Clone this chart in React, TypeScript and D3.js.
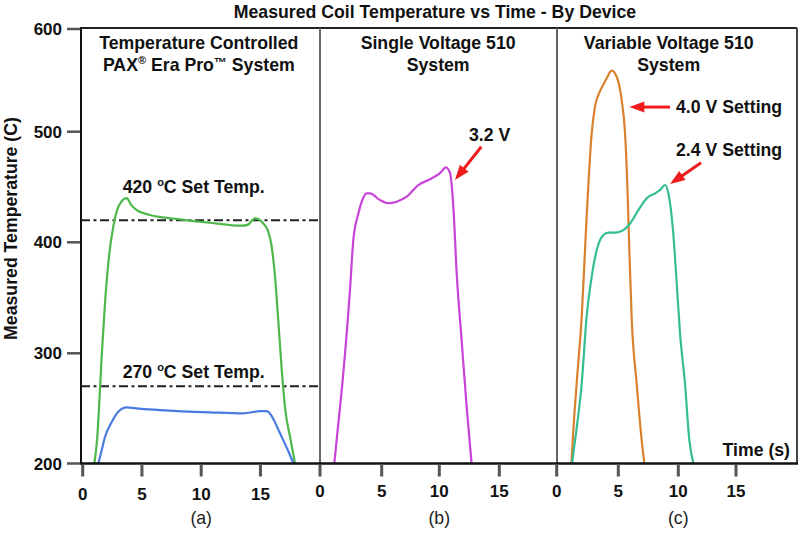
import React from 'react';
import * as d3 from 'd3';

// ---------- data ----------
const chartTitle = 'Measured Coil Temperature vs Time - By Device';
const yTickValues = [200, 300, 400, 500, 600];
const xTickValues = [0, 5, 10, 15];
const panelLetters = ['(a)', '(b)', '(c)'];
const setTemps = [420, 270];

// Panel (a): temperature controlled, 420 C setting (green)
const set420Time = [0.98, 1.23, 1.4, 1.6, 1.88, 2.25, 2.58, 3.0, 3.71, 4.08, 4.56, 5.68, 8.21, 10.74, 13.42, 13.95, 14.54, 14.9, 15.24, 15.66, 15.95, 16.23, 16.5, 16.8, 17.1, 17.5, 17.92];
const set420Temp = [200, 224, 255, 297, 345, 390, 414, 432, 440, 434, 429, 424.7, 420.8, 417.7, 415, 416, 421.7, 420.5, 417, 409.6, 396, 369, 330, 284.5, 248.5, 224, 200];
// Panel (a): 270 C setting (blue)
const set270Time = [1.32, 1.6, 1.88, 2.45, 3.0, 3.71, 4.5, 6.5, 10.74, 13.55, 15.0, 15.5, 15.95, 16.2, 16.5, 16.93, 17.4, 17.78];
const set270Temp = [200, 212, 224, 237.7, 247, 251, 250, 248.5, 246.4, 245.5, 247.5, 247.5, 243, 238, 231, 221, 210, 200];
// Panel (b): single voltage 3.2 V (magenta)
const single32Time = [1.16, 1.35, 1.89, 2.43, 2.7, 3.11, 3.5, 3.78, 4.05, 4.86, 5.58, 6.3, 7.17, 8.18, 9.2, 10.06, 10.55, 10.9, 11.17, 11.45, 11.86, 12.28, 12.69];
const single32Temp = [200, 221.3, 282, 357, 402, 426, 440, 444.3, 444.3, 438.2, 435.3, 436.7, 441.2, 451.8, 457, 462.5, 467.8, 462.5, 432, 372, 312, 251.5, 200];
// Panel (c): variable voltage 4.0 V (orange)
const var40Time = [1.2, 1.3, 1.62, 2.03, 2.43, 2.84, 3.11, 3.51, 3.78, 4.1, 4.46, 4.87, 5.28, 5.56, 5.75, 5.92, 6.11, 6.53, 6.95, 7.17];
const var40Temp = [200, 221, 272.6, 333, 423, 498.5, 524.6, 539.2, 545.7, 553, 559.4, 553.5, 530.9, 498.8, 453, 393, 333, 272.6, 221, 200];
// Panel (c): variable voltage 2.4 V (teal)
const var24Time = [1.25, 1.49, 2.03, 2.43, 2.84, 3.25, 3.79, 4.19, 4.73, 5.42, 5.98, 6.67, 7.37, 8.06, 8.48, 8.89, 9.17, 9.58, 9.87, 10.15, 10.58, 10.96, 11.31];
const var24Temp = [200, 221, 272.6, 333, 369, 393, 406.6, 408.7, 408.7, 411, 417, 429, 439.8, 444.3, 447.3, 451.8, 444.3, 408, 363, 318, 272.6, 221, 200];

// ---------- layout ----------
const W = 800;
const H = 535;
const FONT = "'Liberation Sans', Arial, Helvetica, sans-serif";
const frameLeft = 81;
const frameRight = 797;
const frameTop = 28;
const dividers = [320, 557];

const yScale = d3.scaleLinear().domain(yTickValues).range([463.5, 353.3, 242.3, 131.7, 29]);
const xA = d3.scaleLinear().domain([0, 15]).range([82.7, 260.45]);
const xB = d3.scaleLinear().domain(xTickValues).range([320, 381.7, 439.3, 499.3]);
const xC = d3.scaleLinear().domain(xTickValues).range([556.7, 618.3, 678.3, 736]);
const xScales = [xA, xB, xC];
const tickLabelBaselines = [500, 497, 497];

const zip = (t: number[], v: number[]) => t.map((d, i) => [d, v[i]] as [number, number]);

const seriesList = [
  { x: xA, data: zip(set420Time, set420Temp), color: '#4fb84b' },
  { x: xA, data: zip(set270Time, set270Temp), color: '#4b7be0' },
  { x: xB, data: zip(single32Time, single32Temp), color: '#c844d8' },
  { x: xC, data: zip(var40Time, var40Temp), color: '#d9822e' },
  { x: xC, data: zip(var24Time, var24Temp), color: '#35bd92' },
];

function Arrow({ x1, y1, x2, y2 }: { x1: number; y1: number; x2: number; y2: number }) {
  const dx = x2 - x1;
  const dy = y2 - y1;
  const len = Math.hypot(dx, dy);
  const ux = dx / len;
  const uy = dy / len;
  const hl = 15;
  const hw = 5.5;
  const bx = x2 - ux * hl;
  const by = y2 - uy * hl;
  const pts = [
    [x2, y2],
    [bx - uy * hw, by + ux * hw],
    [bx + uy * hw, by - ux * hw],
  ];
  return (
    <g>
      <line x1={x1} y1={y1} x2={bx + ux * 2} y2={by + uy * 2} stroke="#ee1c1c" strokeWidth={3} />
      <polygon points={pts.map((p) => p.join(',')).join(' ')} fill="#ee1c1c" />
    </g>
  );
}

export default function App() {
  const fs = 17.7;
  const sup = (s: string) => (
    <tspan fontSize={11} dy={-7}>{s}</tspan>
  );
  return (
    <svg width={W} height={H} style={{ position: 'absolute', left: 0, top: 0, background: '#fff' }} fontFamily={FONT}>
      <rect x={0} y={0} width={W} height={H} fill="#fff" />
      {/* title */}
      <text x={435} y={17.5} textAnchor="middle" fontWeight="bold" fontSize={fs} fill="#111">{chartTitle}</text>

      {/* y axis title */}
      <text transform={`translate(16.5, ${(115 + 342) / 2}) rotate(-90)`} textAnchor="middle" fontWeight="bold" fontSize={fs} fill="#111">
        Measured Temperature (C)
      </text>

      {/* y ticks */}
      {yTickValues.map((v) => (
        <g key={v}>
          <line x1={67} x2={frameLeft} y1={yScale(v)} y2={yScale(v)} stroke="#555" strokeWidth={2.5} />
          <text x={62} y={yScale(v) + 6} textAnchor="end" fontWeight="bold" fontSize={17} fill="#111">{v}</text>
        </g>
      ))}

      {/* reference set temperature lines */}
      {setTemps.map((v) => (
        <line key={v} x1={frameLeft} x2={dividers[0]} y1={yScale(v)} y2={yScale(v)} stroke="#222" strokeWidth={2} strokeDasharray="9,3.5,3,3.5" />
      ))}

      {/* curves */}
      {seriesList.map((s, i) => {
        const line = d3
          .line<[number, number]>()
          .x((d) => s.x(d[0]))
          .y((d) => yScale(d[1]))
          .curve(d3.curveMonotoneX);
        return <path key={i} d={line(s.data) || ''} fill="none" stroke={s.color} strokeWidth={2.2} />;
      })}

      {/* frame */}
      <line x1={frameLeft} x2={frameRight} y1={frameTop} y2={frameTop} stroke="#222" strokeWidth={2} />
      <line x1={frameRight} x2={frameRight} y1={frameTop} y2={yScale(200)} stroke="#444" strokeWidth={2} />
      {dividers.map((d) => (
        <line key={d} x1={d} x2={d} y1={frameTop} y2={yScale(200)} stroke="#666" strokeWidth={2} />
      ))}
      <line x1={frameLeft} x2={frameLeft} y1={frameTop - 1} y2={yScale(200) + 1} stroke="#111" strokeWidth={2} />
      <line x1={frameLeft} x2={frameRight + 1} y1={yScale(200)} y2={yScale(200)} stroke="#111" strokeWidth={2.5} />

      {/* x ticks */}
      {xScales.map((xs, pi) => (
        <g key={pi}>
          {xTickValues.map((t) => (
            <g key={t}>
              <line x1={xs(t)} x2={xs(t)} y1={465} y2={476.5} stroke="#555" strokeWidth={3} />
              <text x={xs(t)} y={tickLabelBaselines[pi]} textAnchor="middle" fontWeight="bold" fontSize={17} fill="#111">{t}</text>
            </g>
          ))}
          <text x={xs(10)} y={524} textAnchor="middle" fontSize={fs} fill="#222">{panelLetters[pi]}</text>
        </g>
      ))}
      <text x={790} y={456} textAnchor="end" fontWeight="bold" fontSize={fs} fill="#111">Time (s)</text>

      {/* panel headers */}
      <text x={xA(9.8)} y={49.3} textAnchor="middle" fontWeight="bold" fontSize={fs} fill="#111">Temperature Controlled</text>
      <text x={xA(9.8)} y={70.5} textAnchor="middle" fontWeight="bold" fontSize={fs} fill="#111">
        PAX{sup('®')}<tspan dy={7}> Era Pro</tspan><tspan fontSize={13} dy={-4}>™</tspan><tspan dy={4}> System</tspan>
      </text>
      <text x={xB(9.9)} y={49.3} textAnchor="middle" fontWeight="bold" fontSize={fs} fill="#111">Single Voltage 510</text>
      <text x={xB(9.9)} y={70.5} textAnchor="middle" fontWeight="bold" fontSize={fs} fill="#111">System</text>
      <text x={xC(9.2)} y={49.3} textAnchor="middle" fontWeight="bold" fontSize={fs} fill="#111">Variable Voltage 510</text>
      <text x={xC(9.2)} y={70.5} textAnchor="middle" fontWeight="bold" fontSize={fs} fill="#111">System</text>

      {/* set temp labels */}
      {setTemps.map((v) => (
        <text key={v} x={xA(9.37)} y={yScale(v + (v === 420 ? 24.3 : 7.3))} textAnchor="middle" fontWeight="bold" fontSize={fs} fill="#111">
          {v} {sup('o')}<tspan dy={7}>C Set Temp.</tspan>
        </text>
      ))}

      {/* annotations */}
      <text x={xB(14.2)} y={yScale(491.9)} textAnchor="middle" fontWeight="bold" fontSize={fs} fill="#111">3.2 V</text>
      <Arrow x1={xB(13.5)} y1={yScale(486.4)} x2={xB(11.3)} y2={yScale(456.3)} />
      <text x={xC(9.81)} y={yScale(517.9)} fontWeight="bold" fontSize={fs} fill="#111">4.0 V Setting</text>
      <Arrow x1={xC(9.31)} y1={yScale(524)} x2={xC(5.92)} y2={yScale(524)} />
      <text x={xC(9.81)} y={yScale(478)} fontWeight="bold" fontSize={fs} fill="#111">2.4 V Setting</text>
      <Arrow x1={xC(11.97)} y1={yScale(472)} x2={xC(9.31)} y2={yScale(452.7)} />
    </svg>
  );
}
